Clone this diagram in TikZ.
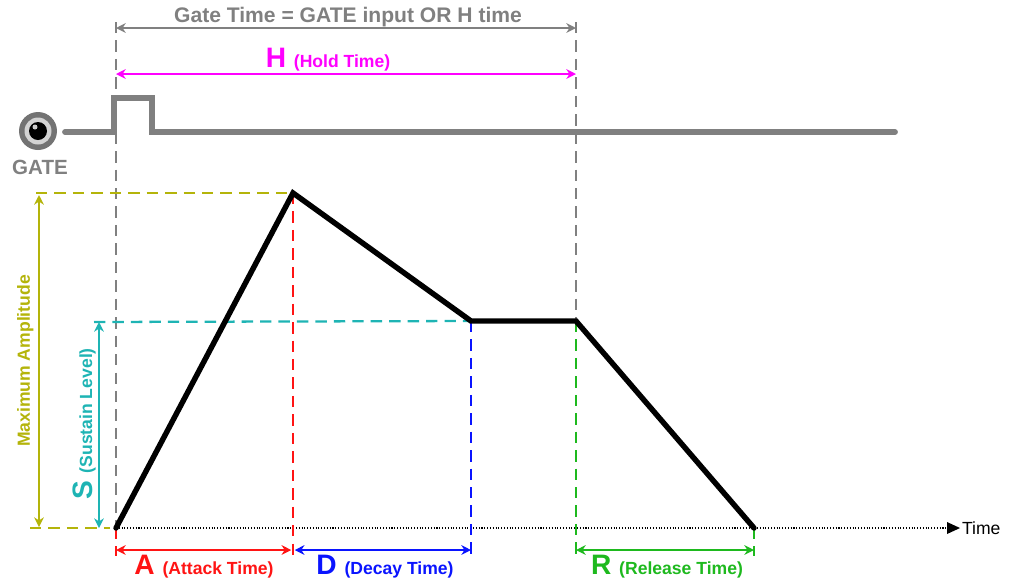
\documentclass[tikz,border=0pt]{standalone}
\usepackage{fontspec}
\setmainfont{Liberation Sans}
\usetikzlibrary{arrows.meta}
\definecolor{gategray}{HTML}{808080}
\definecolor{holdmag}{HTML}{FF00FF}
\definecolor{ampolive}{HTML}{B4B40A}
\definecolor{susteal}{HTML}{1EB4B4}
\definecolor{atkred}{HTML}{FF1414}
\definecolor{decblue}{HTML}{0A14FF}
\definecolor{relgreen}{HTML}{1EB91E}
\newcommand{\adsrlbl}[2]{{\fontsize{16}{16}\selectfont #1\ }{\fontsize{10}{10}\selectfont(#2)}}

\begin{document}
\begin{tikzpicture}[x=0.02cm,y=-0.02cm,font=\bfseries,
  dashline/.style={line width=1.3pt,dash pattern=on 6.5pt off 4pt},
  spanline/.style={line width=1.2pt,{Stealth[length=5.5pt,width=5.5pt]}-{Stealth[length=5.5pt,width=5.5pt]}},
  envline/.style={line width=3.1pt,line cap=round,line join=miter}]
\useasboundingbox (0,0) rectangle (1013,579);
% envelope corners
\coordinate (env0) at (116,528);
\coordinate (envA) at (293,193);
\coordinate (envD) at (471,321);
\coordinate (envS) at (576,321);
\coordinate (envR) at (754,528);
% rows
\coordinate (rowTop) at (0,22);
\coordinate (rowGT) at (0,28);
\coordinate (rowH) at (0,74);
\coordinate (rowSpan) at (0,550);
\coordinate (rowTick) at (0,556);
% gate input
\draw [gategray, line width=3.3pt, line cap=round, line join=miter]
  (65,132) -- (114,132) -- (114,98) -- (152,98) -- (152,132) -- (895,132);
\fill [gategray!90!black] (38,131) circle (19);
\fill [gategray!35] (38,131) circle (13.5);
\fill [black] (38,131) circle (9);
\fill [white!60!gray] (35,127) circle (2.5);
\node (gate) [gategray, anchor=base, font=\bfseries\fontsize{11.7}{12}\selectfont] at (40,174) {GATE};
% gate time and hold
\draw [gategray, dashline] (env0 |- rowTop) -- (env0);
\draw [gategray, dashline] (envS |- rowTop) -- (envS);
\draw [gategray, spanline] (env0 |- rowGT) -- (envS |- rowGT);
\node (gtime) [gategray, anchor=base, font=\bfseries\fontsize{12}{12}\selectfont] at (348,22) {Gate Time = GATE input OR H time};
\draw [holdmag, spanline] (env0 |- rowH) -- (envS |- rowH);
\node (hold) [holdmag, anchor=base] at (328,67) {\adsrlbl{H}{Hold Time}};
% time axis
\coordinate (tend) at (960,528);
\draw [black, line width=0.6pt, densely dotted] (env0) -- (950,528);
\fill [black] (tend) -- (947,522) -- (947,534) -- cycle;
\node (time) [anchor=west, inner sep=1pt, font=\fontsize{10}{10}\selectfont] at (tend) {Time};
% maximum amplitude
\draw [ampolive, dashline] (36,193) -- (envA);
\draw [ampolive, dashline] (30,528) -- (110,528);
\draw [ampolive, spanline] (39,195) -- (39,527);
\node (maxamp) [ampolive, rotate=90, anchor=base, font=\bfseries\fontsize{10}{10}\selectfont] at (30,361) {Maximum Amplitude};
% sustain level
\draw [susteal, dashline] (94,322) -- (envD);
\draw [susteal, spanline] (99,322) -- (99,528);
\node (sus) [susteal, rotate=90, anchor=base] at (92,424) {\adsrlbl{S}{Sustain Level}};
% attack, decay, release
\draw [atkred, dashline] (env0) -- (env0 |- rowTick);
\draw [atkred, dashline] (envA) -- (envA |- rowTick);
\draw [atkred, spanline] (env0 |- rowSpan) -- ([xshift=-1] envA |- rowSpan);
\node (atk) [atkred, anchor=base] at (204,574) {\adsrlbl{A}{Attack Time}};
\draw [decblue, dashline] (envD) -- (envD |- rowTick);
\draw [decblue, spanline] ([xshift=1] envA |- rowSpan) -- (envD |- rowSpan);
\node (dec) [decblue, anchor=base] at (385,574) {\adsrlbl{D}{Decay Time}};
\draw [relgreen, dashline] (envS) -- (envS |- rowTick);
\draw [relgreen, dashline] (envR) -- (envR |- rowTick);
\draw [relgreen, spanline] (envS |- rowSpan) -- (envR |- rowSpan);
\node (rel) [relgreen, anchor=base] at (667,574) {\adsrlbl{R}{Release Time}};
% envelope
\draw [black, envline] (env0) -- (envA) -- (envD) -- (envS) -- (envR);
\end{tikzpicture}
\end{document}
